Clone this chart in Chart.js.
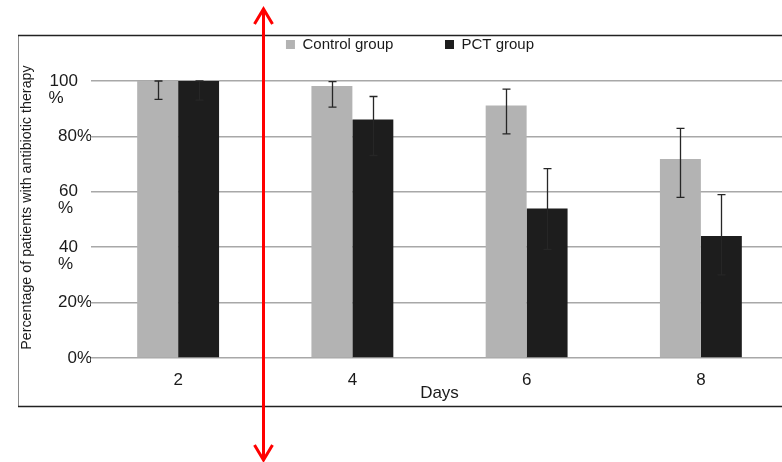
<!DOCTYPE html>
<html>
<head>
<meta charset="utf-8">
<script src="https://cdn.jsdelivr.net/npm/chart.js@4.4.0/dist/chart.umd.min.js"></script>
<style>
html, body { margin: 0; padding: 0; background: #fff; overflow: hidden; }
#wrap { position: absolute; left: 0; top: 0; width: 790px; height: 462px; }
</style>
</head>
<body>
<div id="wrap"><canvas id="chart" width="790" height="462"></canvas></div>
<script>
// data
const days = ["2", "4", "6", "8"];
const controlValues = [100, 98.2, 91.2, 71.8];
const controlErrLow = [93.4, 90.6, 80.9, 58.0];
const controlErrHigh = [100, 99.8, 97.1, 82.9];
const pctValues = [100, 86.1, 54.0, 44.0];
const pctErrLow = [93.1, 73.1, 39.2, 30.0];
const pctErrHigh = [100, 94.4, 68.4, 59.0];
const yTickValues = [0, 20, 40, 60, 80, 100];
const yTickLabels = ["0%", "20%", "40 %", "60 %", "80%", "100 %"];

const FONT = "'Liberation Sans', Arial, sans-serif";
const TEXT = "#1a1a1a";

// error bars drawn from the y scale
const errorBars = {
	id: "errorBars",
	afterDatasetsDraw(chart)
	{
		const ctx = chart.ctx;
		const y = chart.scales.y;
		const errs = [[controlErrLow, controlErrHigh], [pctErrLow, pctErrHigh]];
		ctx.save();
		ctx.strokeStyle = "#262626";
		ctx.lineWidth = 1.3;
		chart.data.datasets.forEach((ds, i) =>
		{
			chart.getDatasetMeta(i).data.forEach((bar, j) =>
			{
				const x = Math.round(bar.x) + 0.5;
				const top = y.getPixelForValue(errs[i][1][j]);
				const bot = y.getPixelForValue(errs[i][0][j]);
				ctx.beginPath();
				ctx.moveTo(x, top); ctx.lineTo(x, bot);
				ctx.moveTo(x - 4, top); ctx.lineTo(x + 4, top);
				ctx.moveTo(x - 4, bot); ctx.lineTo(x + 4, bot);
				ctx.stroke();
			});
		});
		ctx.restore();
	}
};

// outer frame, legend spacing and the red annotation arrow
const frameAndArrow = {
	id: "frameAndArrow",
	beforeInit(chart)
	{
		const legend = chart.legend;
		if (!legend) return;
		const fit = legend.fit;
		legend.fit = function ()
		{
			fit.call(this);
			this.height += 19;
		};
		const draw = legend.draw;
		legend.draw = function ()
		{
			this.ctx.save();
			this.ctx.translate(7, 0);
			draw.call(this);
			this.ctx.restore();
		};
	},
	beforeDraw(chart)
	{
		const ctx = chart.ctx;
		ctx.save();
		ctx.fillStyle = "#fff";
		ctx.fillRect(0, 0, chart.width, chart.height);
		ctx.strokeStyle = "#8a8a8a";
		ctx.lineWidth = 1;
		ctx.beginPath();
		ctx.moveTo(18.5, 35); ctx.lineTo(18.5, 407);
		ctx.stroke();
		ctx.strokeStyle = "#222";
		ctx.lineWidth = 1.5;
		ctx.beginPath();
		ctx.moveTo(18, 35.5); ctx.lineTo(chart.width, 35.5);
		ctx.moveTo(18, 406.5); ctx.lineTo(chart.width, 406.5);
		ctx.stroke();
		ctx.restore();
	},
	afterDraw(chart)
	{
		const ctx = chart.ctx;
		const x = 263.5;
		ctx.save();
		ctx.strokeStyle = "#ff0000";
		ctx.lineWidth = 3;
		ctx.lineCap = "butt";
		ctx.beginPath();
		ctx.moveTo(x, 10); ctx.lineTo(x, 458);
		ctx.stroke();
		ctx.lineJoin = "miter";
		ctx.beginPath();
		ctx.moveTo(x - 9, 24); ctx.lineTo(x, 9); ctx.lineTo(x + 9, 24);
		ctx.moveTo(x - 9, 445); ctx.lineTo(x, 460); ctx.lineTo(x + 9, 445);
		ctx.stroke();
		ctx.restore();
	}
};

const data =
{
	labels: days,
	datasets:
	[
		{
			label: "Control group",
			data: controlValues,
			backgroundColor: "#b3b3b3",
			borderWidth: 0
		},
		{
			label: "PCT group",
			data: pctValues,
			backgroundColor: "#1d1d1d",
			borderWidth: 0
		}
	]
};

const config =
{
	type: "bar",
	data: data,
	options:
	{
		responsive: false,
		animation: false,
		events: [],
		layout: { padding: { left: 18, right: 2, top: 27, bottom: 60 } },
		datasets: { bar: { barPercentage: 1, categoryPercentage: 0.47 } },
		plugins:
		{
			tooltip: { enabled: false },
			legend:
			{
				position: "top",
				labels:
				{
					color: TEXT,
					font: { family: FONT, size: 15 },
					boxWidth: 9,
					boxHeight: 9,
					padding: 10,
					generateLabels(chart)
					{
						const items = Chart.defaults.plugins.legend.labels.generateLabels(chart);
						items[0].text = items[0].text + "          ";
						return items;
					}
				}
			}
		},
		scales:
		{
			x:
			{
				afterFit(scale) { scale.height = 44; },
				grid: { display: false, drawTicks: false },
				border: { display: false },
				ticks: { color: TEXT, font: { family: FONT, size: 17, lineHeight: 1 }, padding: 14 },
				title:
				{
					display: true,
					text: "Days",
					color: TEXT,
					font: { family: FONT, size: 17, lineHeight: 1 },
					padding: { top: 0, bottom: 0 }
				}
			},
			y:
			{
				min: 0,
				max: 100,
				afterFit(scale) { scale.width = 73; },
				afterBuildTicks(scale) { scale.ticks = yTickValues.map(v => ({ value: v })); },
				grid: { color: "#a8a8a8", lineWidth: 1.5, drawTicks: false },
				border: { display: false },
				ticks:
				{
					color: TEXT,
					padding: -1,
					autoSkip: false,
					font: { family: FONT, size: 17, lineHeight: 1 },
					callback(value)
					{
						const label = yTickLabels[yTickValues.indexOf(value)];
						if (label.indexOf(" ") < 0) return label;
						const parts = label.split(" ");
						const pctPad = value === 100 ? 6 : 4;
						return ["", parts[0] + "   ", parts[1] + " ".repeat(pctPad)];
					}
				},
				title:
				{
					display: true,
					text: "      Percentage of patients with antibiotic therapy",
					color: TEXT,
					font: { family: FONT, size: 14.3, lineHeight: 1.2 },
					padding: { top: 0, bottom: 2 }
				}
			}
		}
	},
	plugins: [errorBars, frameAndArrow]
};

new Chart(document.getElementById("chart"), config);
</script>
</body>
</html>
